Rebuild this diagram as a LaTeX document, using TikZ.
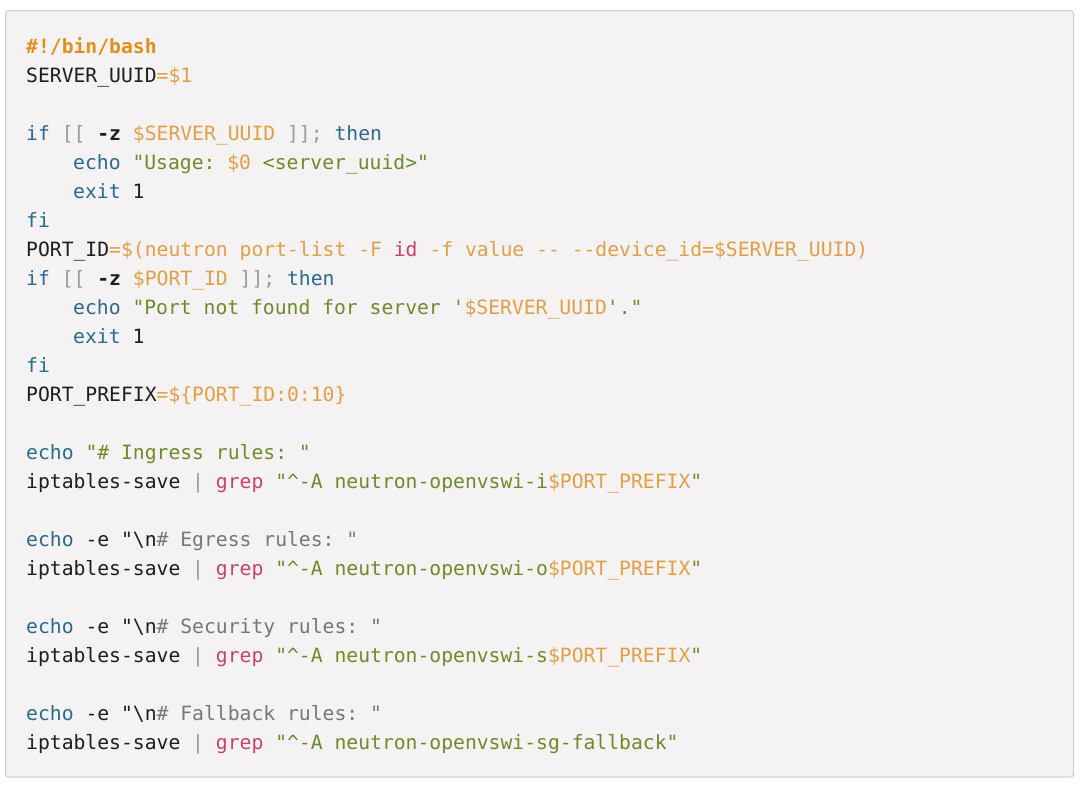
\documentclass[tikz,border=0pt]{standalone}
\usepackage{fontspec}
\setmonofont{DejaVu Sans Mono}
\definecolor{cOrange}{HTML}{E0A04A}
\definecolor{cShebang}{HTML}{E0901F}
\definecolor{cKwC}{HTML}{2B6A8C}
\definecolor{cStrC}{HTML}{6E8B2C}
\definecolor{cPkC}{HTML}{C8426B}
\definecolor{cGrC}{HTML}{9A9A9A}
\definecolor{cCmC}{HTML}{777777}
\definecolor{cBlack}{HTML}{1E1E1E}
\definecolor{cBg}{HTML}{F4F2F2}
\definecolor{cBorder}{HTML}{CCCCCC}
\newcommand\cKw[1]{\textcolor{cKwC}{#1}}
\newcommand\cStr[1]{\textcolor{cStrC}{#1}}
\newcommand\cVr[1]{\textcolor{cOrange}{#1}}
\newcommand\cPk[1]{\textcolor{cPkC}{#1}}
\newcommand\cGr[1]{\textcolor{cGrC}{#1}}
\newcommand\cCm[1]{\textcolor{cCmC}{#1}}
\begin{document}
\begin{tikzpicture}[x=1pt,y=-1pt,
  codeline/.style={anchor=base west, inner sep=0pt, text=cBlack,
    font=\ttfamily\fontsize{19.7}{29}\selectfont},
  panel/.style={rounded corners=3pt, draw=cBorder, fill=cBg, line width=1pt}]
\useasboundingbox (0,0) rectangle (1080,785);
\draw[panel] (5.5,10.5) rectangle (1073.5,777);
\def\xa{26}
\def\xb{73}
\node[codeline] (l0)  at (\xa, 53)  {\textbf{\textcolor{cShebang}{\#!/bin/bash}}};
\node[codeline] (l1)  at (\xa, 82)  {SERVER\_UUID\cVr{=\$1}};
\node[codeline] (l3)  at (\xa, 140) {\cKw{if} \cGr{[[} \textbf{-z} \cVr{\$SERVER\_UUID} \cGr{]];} \cKw{then}};
\node[codeline] (l4)  at (\xb, 169) {\cKw{echo} \cStr{"Usage:} \cVr{\$0} \cStr{<server\_uuid>"}};
\node[codeline] (l5)  at (\xb, 198) {\cKw{exit} 1};
\node[codeline] (l6)  at (\xa, 227) {\cKw{fi}};
\node[codeline] (l7)  at (\xa, 256) {PORT\_ID\cVr{=\$(neutron port-list -F} \cPk{id} \cVr{-f value -- --device\_id=\$SERVER\_UUID)}};
\node[codeline] (l8)  at (\xa, 285) {\cKw{if} \cGr{[[} \textbf{-z} \cVr{\$PORT\_ID} \cGr{]];} \cKw{then}};
\node[codeline] (l9)  at (\xb, 314) {\cKw{echo} \cStr{"Port not found for server '}\cVr{\$SERVER\_UUID}\cStr{'."}};
\node[codeline] (l10) at (\xb, 343) {\cKw{exit} 1};
\node[codeline] (l11) at (\xa, 372) {\cKw{fi}};
\node[codeline] (l12) at (\xa, 401) {PORT\_PREFIX\cVr{=\$\{PORT\_ID:0:10\}}};
\node[codeline] (l14) at (\xa, 459) {\cKw{echo} \cStr{"\# Ingress rules: "}};
\node[codeline] (l15) at (\xa, 488) {iptables-save \cGr{|} \cPk{grep} \cStr{"\textasciicircum-A neutron-openvswi-i}\cVr{\$PORT\_PREFIX}\cStr{"}};
\node[codeline] (l17) at (\xa, 546) {\cKw{echo} -e "\textbackslash n\cCm{\# Egress rules: "}};
\node[codeline] (l18) at (\xa, 575) {iptables-save \cGr{|} \cPk{grep} \cStr{"\textasciicircum-A neutron-openvswi-o}\cVr{\$PORT\_PREFIX}\cStr{"}};
\node[codeline] (l20) at (\xa, 633) {\cKw{echo} -e "\textbackslash n\cCm{\# Security rules: "}};
\node[codeline] (l21) at (\xa, 662) {iptables-save \cGr{|} \cPk{grep} \cStr{"\textasciicircum-A neutron-openvswi-s}\cVr{\$PORT\_PREFIX}\cStr{"}};
\node[codeline] (l23) at (\xa, 720) {\cKw{echo} -e "\textbackslash n\cCm{\# Fallback rules: "}};
\node[codeline] (l24) at (\xa, 749) {iptables-save \cGr{|} \cPk{grep} \cStr{"\textasciicircum-A neutron-openvswi-sg-fallback"}};
\end{tikzpicture}
\end{document}
